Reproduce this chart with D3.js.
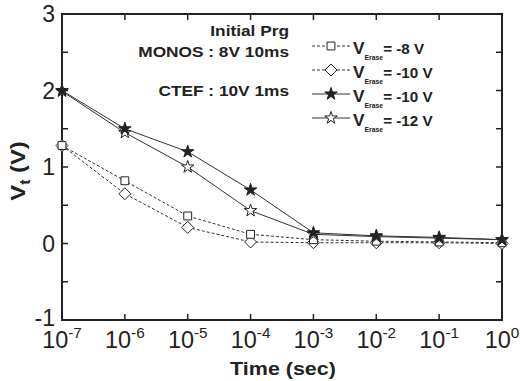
<!DOCTYPE html>
<html><head><meta charset="utf-8">
<script src="https://cdn.jsdelivr.net/npm/d3@7"></script>
<style>body{margin:0;background:#fff}svg{display:block;font-family:"Liberation Sans",Arial,sans-serif}</style>
</head><body><svg id="c" width="520" height="381"></svg>
<script>
const times = [1e-7,1e-6,1e-5,1e-4,1e-3,1e-2,1e-1,1];
const monos8 = [1.28,0.82,0.36,0.12,0.05,0.03,0.02,0.01];
const monos10 = [1.28,0.65,0.21,0.02,0.01,0.01,0.01,0.00];
const ctef10 = [2.00,1.50,1.20,0.70,0.14,0.10,0.08,0.05];
const ctef12 = [1.99,1.45,1.00,0.43,0.12,0.09,0.07,0.05];
const seriesLabels = ["= -8 V","= -10 V","= -10 V","= -12 V"];
const xTickExp = [-7,-6,-5,-4,-3,-2,-1,0];
const yTicks = [-1,0,1,2,3];
const yMinor = [-0.5,0.5,1.5,2.5];
const notes = ["Initial Prg","MONOS : 8V 10ms","CTEF : 10V 1ms"];

const svg = d3.select("#c");
const x = d3.scaleLog().domain([1e-7,1]).range([62,502]);
const y = d3.scaleLinear().domain([-1,3]).range([320,14]);
const SX = 1.13;

// ticks
const tickG = svg.append("g").attr("stroke","#222").attr("stroke-width",1.5);
const allY = yTicks.concat(yMinor);
const xt = xTickExp.map(e=>Math.pow(10,e));
xt.forEach(t=>{
  tickG.append("line").attr("x1",x(t)).attr("x2",x(t)).attr("y1",y(-1)).attr("y2",y(-1)-6);
  tickG.append("line").attr("x1",x(t)).attr("x2",x(t)).attr("y1",y(3)).attr("y2",y(3)+6);
});
allY.forEach(v=>{
  tickG.append("line").attr("x1",x(1e-7)).attr("x2",x(1e-7)+6).attr("y1",y(v)).attr("y2",y(v));
  tickG.append("line").attr("x1",x(1)).attr("x2",x(1)-6).attr("y1",y(v)).attr("y2",y(v));
});
svg.append("rect").attr("x",x(1e-7)).attr("y",y(3)).attr("width",x(1)-x(1e-7)).attr("height",y(-1)-y(3))
  .attr("fill","none").attr("stroke","#222").attr("stroke-width",2);

// y tick labels
yTicks.forEach(v=>{
  svg.append("text").attr("transform",`translate(${x(1e-7)-7},${y(v)+(v===-1?6:8)})`)
    .attr("text-anchor","end").attr("font-size",23).attr("fill","#222").text(v);
});
// x tick labels
xTickExp.forEach(e=>{
  const t = svg.append("text").attr("transform",`translate(${x(Math.pow(10,e))},348) scale(1.02,1)`)
    .attr("text-anchor","middle").attr("fill","#222");
  t.append("tspan").attr("font-size",23).text("10");
  t.append("tspan").attr("font-size",15).attr("dy",-10).text(e===0?"0":"-"+(-e));
});
// axis titles
svg.append("text").attr("transform",`translate(283,375) scale(${SX},1)`).attr("text-anchor","middle")
  .attr("font-size",19).attr("font-weight","bold").attr("fill","#222").text("Time (sec)");
const yl = svg.append("text").attr("transform",`translate(25,171) rotate(-90) scale(${SX},1)`).attr("text-anchor","middle")
  .attr("font-weight","bold").attr("fill","#222");
yl.append("tspan").attr("font-size",21).text("V");
yl.append("tspan").attr("font-size",14).attr("dy",5).text("t");
yl.append("tspan").attr("font-size",21).attr("dy",-5).text(" (V)");

// notes
const noteY = [36,57,95.5];
notes.forEach((n,i)=>{
  svg.append("text").attr("transform",`translate(289,${noteY[i]}) scale(${SX},1)`).attr("text-anchor","end")
    .attr("font-size",15.3).attr("font-weight","bold").attr("fill","#222").text(n);
});

// markers
const starPath = d3.symbol().type(d3.symbolStar).size(48)();
const sqPath = d3.symbol().type(d3.symbolSquare).size(62)();
const diaPath = "M0,-6L6,0L0,6L-6,0Z";
const series = [
  {v:monos8, dash:"3,2", path:sqPath, fill:"#fff"},
  {v:monos10, dash:"3,2", path:diaPath, fill:"#fff"},
  {v:ctef10, dash:null, path:starPath, fill:"#222"},
  {v:ctef12, dash:null, path:starPath, fill:"#fff"}
];
const line = d3.line().x((d,i)=>x(times[i])).y(d=>y(d));
series.forEach(s=>{
  svg.append("path").attr("d",line(s.v)).attr("fill","none").attr("stroke","#333").attr("stroke-width",1)
    .attr("stroke-dasharray",s.dash);
});
[1,0,3,2].forEach(k=>{
  const s = series[k];
  svg.append("g").selectAll("path").data(s.v).join("path")
    .attr("transform",(d,i)=>`translate(${x(times[i])},${y(d)})`).attr("d",s.path)
    .attr("fill",s.fill).attr("stroke","#222").attr("stroke-width",1);
});

// legend
const lgY = [46,70,94,118];
series.forEach((s,i)=>{
  const g = svg.append("g").attr("transform",`translate(0,${lgY[i]})`);
  g.append("line").attr("x1",312).attr("x2",350).attr("stroke","#333").attr("stroke-width",1).attr("stroke-dasharray",s.dash);
  g.append("path").attr("transform","translate(331,0)").attr("d",s.path).attr("fill",s.fill).attr("stroke","#222");
  const t = g.append("text").attr("transform",`translate(353,8) scale(1.05,1)`).attr("font-weight","bold").attr("fill","#222");
  t.append("tspan").attr("font-size",16.5).text("V");
  t.append("tspan").attr("font-size",6.5).attr("dy",6).text("Erase");
  t.append("tspan").attr("font-size",14.5).attr("dy",-6).text(seriesLabels[i]);
});
</script></body></html>
